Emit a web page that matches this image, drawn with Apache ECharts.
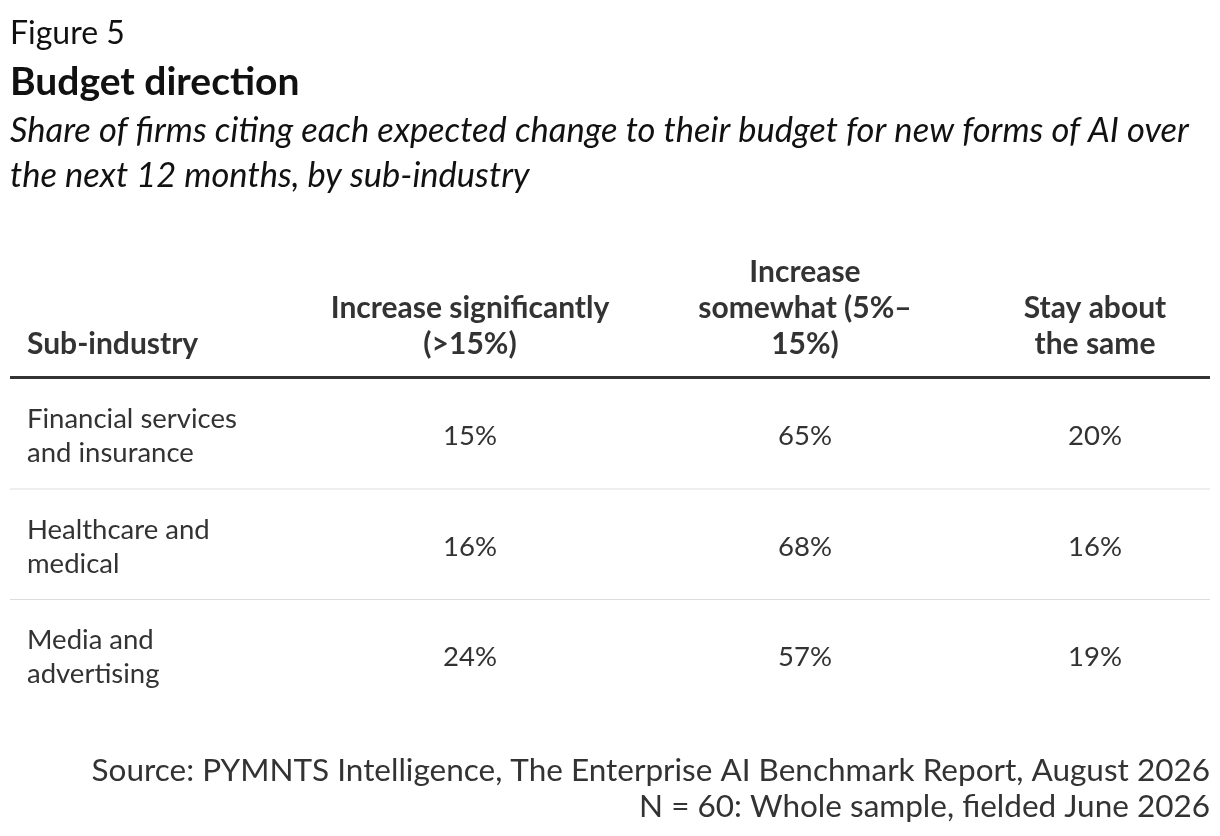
<!DOCTYPE html>
<html>
<head>
<meta charset="utf-8">
<script src="https://cdn.jsdelivr.net/npm/echarts@6/dist/echarts.min.js"></script>
<style>
html, body { margin: 0; padding: 0; background: #fff; }
#chart { width: 1220px; height: 836px; }
</style>
</head>
<body>
<div id="chart"></div>
<script>
var headers = ['Sub-industry', 'Increase significantly\n(>15%)', 'Increase\nsomewhat (5%–\n15%)', 'Stay about\nthe same'];
var subIndustries = ['Financial services\nand insurance', 'Healthcare and\nmedical', 'Media and\nadvertising'];
var increaseSignificantly = ['15%', '16%', '24%'];
var increaseSomewhat = ['65%', '68%', '57%'];
var stayAboutSame = ['20%', '16%', '19%'];

var font = 'Lato, "Open Sans", sans-serif';
var colX = [27, 470, 805, 1095];
var headerBottom = 362;
var rowTop = 378;
var rowH = 110.5;

function buildGraphics() {
    var els = [];
    els.push({type: 'text', x: 10, y: 34, style: {text: 'Figure 5', font: '32px ' + font, fill: '#111', verticalAlign: 'middle'}});
    els.push({type: 'text', x: 10, y: 82, style: {text: 'Budget direction', font: 'bold 39px ' + font, fill: '#111', verticalAlign: 'middle'}});
    els.push({type: 'text', x: 10, y: 153, style: {
        text: 'Share of firms citing each expected change to their budget for new forms of AI over\nthe next 12 months, by sub-industry',
        font: 'italic 34.5px ' + font, fill: '#111', lineHeight: 45, verticalAlign: 'middle'}});

    for (var i = 0; i < headers.length; i++) {
        els.push({type: 'text', x: colX[i], y: headerBottom, style: {
            text: headers[i], font: 'bold 30px ' + font, fill: '#333', lineHeight: 36,
            align: i === 0 ? 'left' : 'center', verticalAlign: 'bottom'}});
    }
    els.push({type: 'rect', shape: {x: 10, y: rowTop - 2, width: 1200, height: 3}, style: {fill: '#333'}});

    var cols = [subIndustries, increaseSignificantly, increaseSomewhat, stayAboutSame];
    for (var r = 0; r < subIndustries.length; r++) {
        var cy = rowTop + rowH * r + rowH / 2 + 3;
        for (var c = 0; c < cols.length; c++) {
            els.push({type: 'text', x: colX[c], y: cy, style: {
                text: cols[c][r], font: '27.5px ' + font, fill: '#333', lineHeight: 34,
                align: c === 0 ? 'left' : 'center', verticalAlign: 'middle'}});
        }
        if (r < subIndustries.length - 1) {
            els.push({type: 'rect', shape: {x: 10, y: rowTop + rowH * (r + 1), width: 1200, height: 1}, style: {fill: '#ddd'}});
        }
    }

    els.push({type: 'text', x: 1210, y: 789, style: {
        text: 'Source: PYMNTS Intelligence, The Enterprise AI Benchmark Report, August 2026\nN = 60: Whole sample, fielded June 2026',
        font: '31.5px ' + font, fill: '#333', lineHeight: 36, align: 'right', verticalAlign: 'middle'}});
    return els;
}

var chart = echarts.init(document.getElementById('chart'));
chart.setOption({
    animation: false,
    graphic: {elements: buildGraphics()}
});
</script>
</body>
</html>
